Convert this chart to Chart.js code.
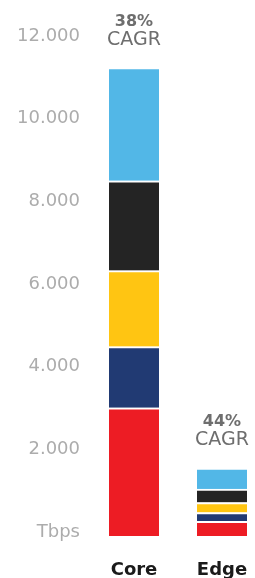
<!DOCTYPE html>
<html>
<head>
<meta charset="utf-8">
<script src="https://cdn.jsdelivr.net/npm/chart.js@4/dist/chart.umd.min.js"></script>
<style>
  html, body { margin: 0; padding: 0; background: #fff; overflow: hidden; }
  #wrap { width: 255px; height: 578px; position: relative; }
</style>
</head>
<body>
<div id="wrap"><canvas id="traffic"></canvas></div>
<script>
// categorias e valores (Tbps)
const categories = ['Core', 'Edge'];
const cagr = ['38%', '44%'];
const seg1 = [3100, 352];   // vermelho
const seg2 = [1480, 216];   // azul escuro
const seg3 = [1840, 242];   // amarelo
const seg4 = [2175, 327];   // preto
const seg5 = [2735, 508];   // azul claro
const yTicks = [0, 2000, 4000, 6000, 8000, 10000, 12000];
const colors = ['#ED1C24', '#213A73', '#FFC512', '#242424', '#52B7E7'];

function ds(data, i) {
    return {
        label: 'S' + (i + 1),
        data: data,
        backgroundColor: colors[i],
        borderColor: '#ffffff',
        borderWidth: {top: 2, left: 0, right: 0, bottom: 0},
        borderSkipped: false,
        barThickness: 50,
        clip: false
    };
}

// escreve "xx% CAGR" em cima de cada barra
const cagrPlugin = {
    id: 'cagr',
    afterDatasetsDraw(chart) {
        const ctx = chart.ctx;
        const meta = chart.getDatasetMeta(chart.data.datasets.length - 1);
        ctx.save();
        ctx.textAlign = 'center';
        ctx.textBaseline = 'middle';
        ctx.fillStyle = '#6e6e6e';
        meta.data.forEach((bar, i) => {
            ctx.font = 'bold 16px "DejaVu Sans"';
            ctx.fillText(cagr[i], bar.x, bar.y - 46);
            ctx.font = '19px "DejaVu Sans"';
            ctx.fillText('CAGR', bar.x, bar.y - 28);
        });
        ctx.restore();
    }
};

const traffic = new Chart(document.getElementById('traffic').getContext('2d'), {
    type: 'bar',
    data: {
        labels: categories,
        datasets: [ds(seg1, 0), ds(seg2, 1), ds(seg3, 2), ds(seg4, 3), ds(seg5, 4)]
    },
    options: {
        responsive: true,
        maintainAspectRatio: false,
        animation: false,
        layout: {padding: {top: 40, right: 33, left: 0, bottom: 0}},
        plugins: {legend: {display: false}, tooltip: {enabled: false}},
        scales: {
            x: {
                stacked: true,
                offset: false,
                grid: {display: false, drawTicks: false},
                border: {display: false},
                afterFit: (scale) => {
                    scale.height = 42;
                    scale.paddingLeft = 0;
                    scale.paddingRight = 0;
                },
                ticks: {
                    padding: 24,
                    color: '#1a1a1a',
                    font: {family: 'DejaVu Sans', size: 18, weight: 'bold'}
                }
            },
            y: {
                stacked: true,
                min: 0,
                max: 12000,
                grid: {display: false, drawTicks: false},
                border: {display: false},
                afterBuildTicks: (scale) => { scale.ticks = yTicks.map(v => ({value: v})); },
                afterFit: (scale) => {
                    scale.width = 134;
                    scale.paddingTop = 0;
                    scale.paddingBottom = 0;
                },
                ticks: {
                    padding: 54,
                    labelOffset: -4,
                    color: '#acacac',
                    font: {family: 'DejaVu Sans', size: 18},
                    callback: (v) => v === 0 ? 'Tbps' : (v / 1000).toFixed(3)
                }
            }
        }
    },
    plugins: [cagrPlugin]
});
</script>
</body>
</html>
